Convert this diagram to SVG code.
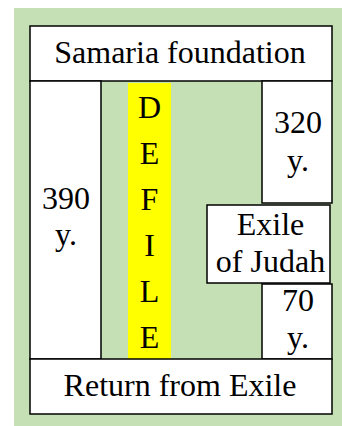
<svg xmlns="http://www.w3.org/2000/svg" width="342" height="426" viewBox="0 0 342 426">
<style>
.box{fill:#ffffff;stroke:#000000;stroke-width:1.5}
.t{font-family:"Liberation Serif","Times New Roman",serif;font-size:32px;fill:#000000;text-anchor:middle}
</style>
<rect x="0" y="0" width="342" height="426" fill="#ffffff"/>
<rect id="background" x="14" y="8" width="328" height="418" fill="#c5e0b4"/>
<g id="defile">
<rect x="128" y="83" width="43" height="276" fill="#ffff00"/>
<text class="t" x="149.5" y="118">D</text>
<text class="t" x="149.5" y="164">E</text>
<text class="t" x="149.5" y="210">F</text>
<text class="t" x="149.5" y="256">I</text>
<text class="t" x="149.5" y="302">L</text>
<text class="t" x="149.5" y="348">E</text>
</g>
<g id="samaria">
<rect class="box" x="30" y="26" width="302" height="55"/>
<text class="t" x="180" y="63">Samaria foundation</text>
</g>
<g id="y390">
<rect class="box" x="30" y="81" width="71" height="278"/>
<text class="t" x="66" y="209">390</text>
<text class="t" x="66" y="245">y.</text>
</g>
<g id="y320">
<rect class="box" x="262" y="81" width="70" height="122"/>
<text class="t" x="298" y="133">320</text>
<text class="t" x="298" y="171">y.</text>
</g>
<g id="exile">
<rect class="box" x="207" y="205" width="123" height="78"/>
<text class="t" x="270.5" y="235">Exile</text>
<text class="t" x="270.5" y="272">of Judah</text>
</g>
<g id="y70">
<rect class="box" x="262" y="284" width="70" height="75"/>
<text class="t" x="298" y="311">70</text>
<text class="t" x="298" y="348">y.</text>
</g>
<g id="return">
<rect class="box" x="30" y="359" width="302" height="55"/>
<text class="t" x="180" y="396">Return from Exile</text>
</g>
</svg>
